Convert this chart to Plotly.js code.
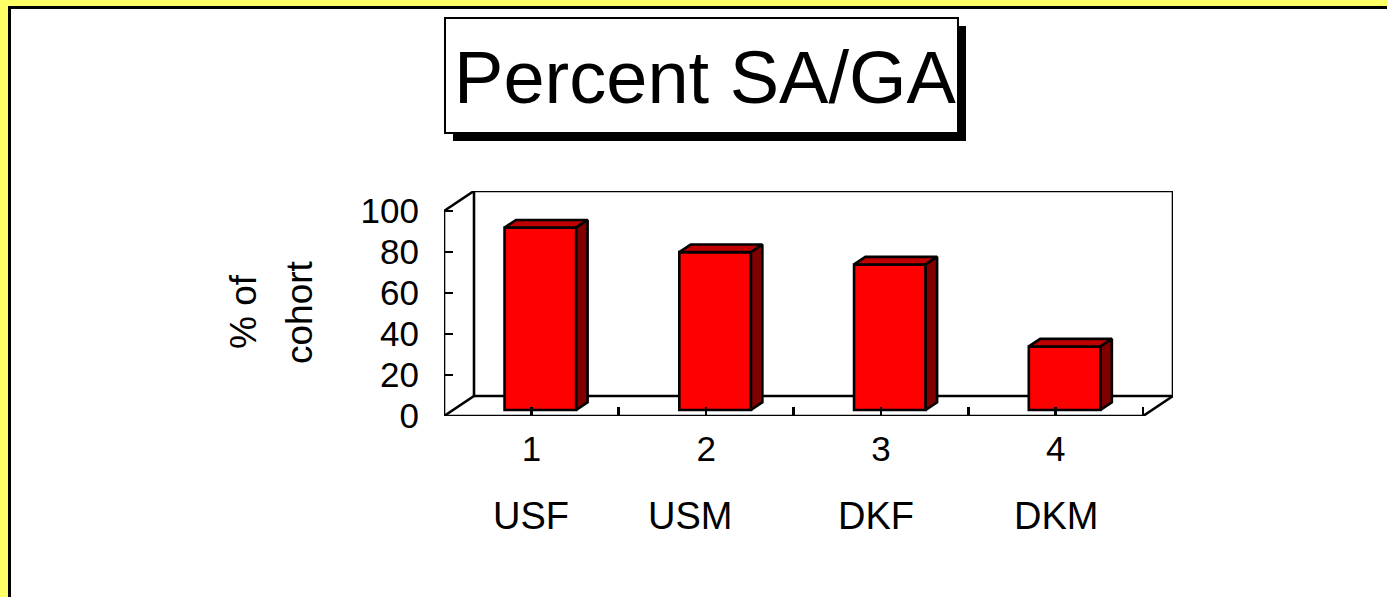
<!DOCTYPE html>
<html>
<head>
<meta charset="utf-8">
<script src="https://cdn.plot.ly/plotly-3.0.1.min.js"></script>
<style>
  html, body { margin: 0; padding: 0; background: #ffffff; }
  #chart { width: 1387px; height: 597px; }
</style>
</head>
<body>
<div id="chart"></div>
<script>
// ---- data ----
const categories = ['USF', 'USM', 'DKF', 'DKM'];
const catNumbers = ['1', '2', '3', '4'];
const pctSAGA = [89, 77, 71, 31];
const yTickVals = [0, 20, 40, 60, 80, 100];
const chartTitle = 'Percent SA/GA';
const yTitleLines = ['% of', 'cohort'];

// ---- layout geometry ----
const W = 1387, H = 597;
const PL = 444, PR = 1173, PT = 191, PB = 416;   // plot domain in px
const catPx = (1143 - 444) / 4;                  // px per category on front plane
const unitPx = 205 / 100;                        // px per value unit
const DX = 30 / catPx;                           // 3D depth in x data units
const DY = 20 / unitPx;                          // 3D depth in y data units
const BAR_W = 0.41;
const BAR_FRONT = 0.3, BAR_DEPTH = 0.38;         // bar position inside depth
const NAME_SHIFT = [0, -16, -5, 0];              // label nudges (px)

const px = x => x / W;
const py = y => 1 - y / H;
const FONT = 'Arial, "Liberation Sans", sans-serif';
const LW = 2.6;

const cats = categories.map((c, i) => i + 1);

const traces = [];
// front faces
traces.push({
  type: 'bar',
  x: cats.map(c => c + BAR_FRONT * DX),
  y: pctSAGA,
  base: BAR_FRONT * DY,
  width: BAR_W,
  marker: { color: '#ff0000', line: { color: '#000', width: LW } },
  hoverinfo: 'skip',
  showlegend: false
});
// top and side faces
cats.forEach((c, i) => {
  const xl = c + BAR_FRONT * DX - BAR_W / 2;
  const xr = c + BAR_FRONT * DX + BAR_W / 2;
  const b = BAR_FRONT * DY;
  const t = b + pctSAGA[i];
  const ddx = BAR_DEPTH * DX, ddy = BAR_DEPTH * DY;
  traces.push({
    type: 'scatter', mode: 'lines', fill: 'toself', fillcolor: '#c00000',
    x: [xl, xr, xr + ddx, xl + ddx, xl],
    y: [t, t, t + ddy, t + ddy, t],
    line: { color: '#000', width: LW }, hoverinfo: 'skip', showlegend: false
  });
  traces.push({
    type: 'scatter', mode: 'lines', fill: 'toself', fillcolor: '#800000',
    x: [xr, xr, xr + ddx, xr + ddx, xr],
    y: [b, t, t + ddy, b + ddy, b],
    line: { color: '#000', width: LW }, hoverinfo: 'skip', showlegend: false
  });
});

// 3D frame (walls/floor) as axis-referenced shapes below traces
const x0 = 0.5, x1 = categories.length + 0.5, yMax = 100;
const seg = (ax, ay, bx, by) => ({
  type: 'line', xref: 'x', yref: 'y', layer: 'below',
  x0: ax, y0: ay, x1: bx, y1: by, line: { color: '#000', width: LW }
});
const shapes = [
  // page background & frame
  { type: 'rect', xref: 'paper', yref: 'paper', layer: 'below',
    x0: px(8), x1: 1.01, y0: -0.01, y1: py(6), fillcolor: '#000', line: { width: 0 } },
  { type: 'rect', xref: 'paper', yref: 'paper', layer: 'below',
    x0: px(11), x1: 1.01, y0: -0.01, y1: py(9), fillcolor: '#fff', line: { width: 0 } },
  // title box shadow and box
  { type: 'rect', xref: 'paper', yref: 'paper', layer: 'below',
    x0: px(453), x1: px(966), y0: py(141), y1: py(26), fillcolor: '#000', line: { width: 0 } },
  { type: 'rect', xref: 'paper', yref: 'paper', layer: 'below',
    x0: px(445), x1: px(958), y0: py(133), y1: py(18), fillcolor: '#fff', line: { color: '#000', width: 2 } },
  // frame lines
  seg(x0 + DX, DY, x1 + DX, DY),
  seg(x0 + DX, DY, x0 + DX, yMax + DY),
  seg(x0 + DX, yMax + DY, x1 + DX, yMax + DY),
  seg(x1 + DX, DY, x1 + DX, yMax + DY),
  seg(x0, 0, x0 + DX, DY),
  seg(x0, yMax, x0 + DX, yMax + DY),
  seg(x0, 0, x0, yMax),
  seg(x0, 0, x1, 0),
  seg(x1, 0, x1 + DX, DY)
];

// x tick values: category centers (labelled) and boundaries
const xTickVals = [], xTickText = [];
for (let i = 0; i <= categories.length; i++) {
  xTickVals.push(i + 0.5); xTickText.push('');
  if (i < categories.length) { xTickVals.push(i + 1); xTickText.push(catNumbers[i]); }
}

const annotations = categories.map((c, i) => ({
  xref: 'x', yref: 'paper', x: i + 1, y: py(516), xshift: NAME_SHIFT[i],
  text: c, showarrow: false, xanchor: 'center', yanchor: 'middle',
  font: { family: FONT, size: 38, color: '#000' }
}));
annotations.push({
  xref: 'paper', yref: 'paper', x: px(243), y: py(312), text: yTitleLines[0],
  textangle: -90, showarrow: false, xanchor: 'center', yanchor: 'middle',
  font: { family: FONT, size: 37, color: '#000' }
});
annotations.push({
  xref: 'paper', yref: 'paper', x: px(299), y: py(312), text: yTitleLines[1],
  textangle: -90, showarrow: false, xanchor: 'center', yanchor: 'middle',
  font: { family: FONT, size: 37, color: '#000' }
});

const layout = {
  width: W, height: H,
  margin: { l: 0, r: 0, t: 0, b: 0, pad: 0, autoexpand: false },
  paper_bgcolor: '#ffff66',
  plot_bgcolor: 'rgba(0,0,0,0)',
  showlegend: false,
  title: {
    text: chartTitle, xref: 'paper', yref: 'paper',
    x: px(705), y: py(77), xanchor: 'center', yanchor: 'middle',
    font: { family: FONT, size: 74, color: '#000' }
  },
  xaxis: {
    domain: [px(PL), px(PR)],
    range: [x0, x1 + DX],
    tickmode: 'array', tickvals: xTickVals, ticktext: xTickText,
    ticks: 'inside', ticklen: 9, tickwidth: LW, tickcolor: '#000',
    ticklabelstandoff: 9,
    showgrid: false, zeroline: false, showline: false, fixedrange: true,
    tickfont: { family: FONT, size: 35, color: '#000' }
  },
  yaxis: {
    domain: [py(PB), py(PT)],
    range: [0, yMax + DY],
    tickmode: 'array', tickvals: yTickVals,
    ticks: 'inside', ticklen: 9, tickwidth: LW, tickcolor: '#000',
    ticklabelstandoff: 24,
    showgrid: false, zeroline: false, showline: false, fixedrange: true,
    tickfont: { family: FONT, size: 35, color: '#000' }
  },
  bargap: 0,
  shapes: shapes,
  annotations: annotations
};

Plotly.newPlot('chart', traces, layout, { displayModeBar: false, staticPlot: true });
</script>
</body>
</html>
